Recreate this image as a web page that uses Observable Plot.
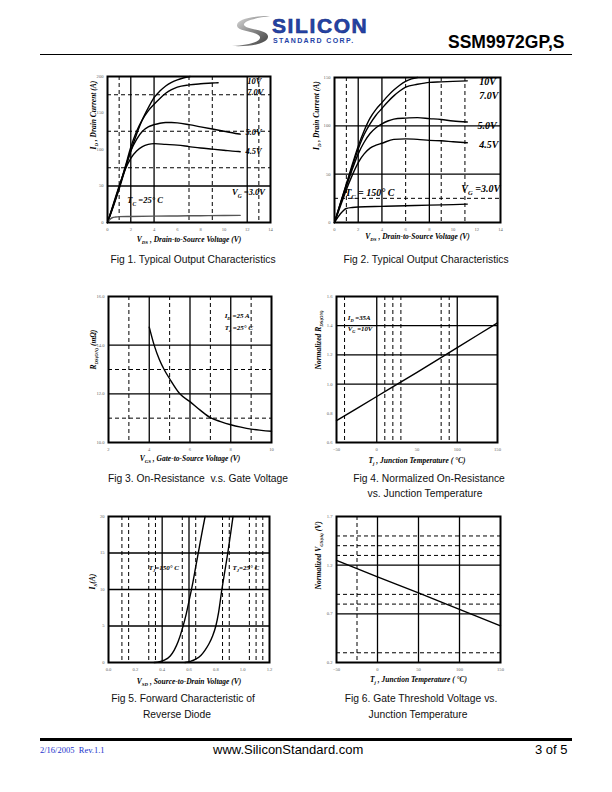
<!DOCTYPE html>
<html><head><meta charset="utf-8">
<script src="https://cdn.jsdelivr.net/npm/d3@7"></script>
<script src="https://cdn.jsdelivr.net/npm/@observablehq/plot@0.6"></script>
<style>
html,body{margin:0;padding:0;background:#fff;}
#page{position:relative;width:612px;height:792px;overflow:hidden;background:#fff;}
.abs{position:absolute;white-space:nowrap;}
.cap{position:absolute;font-family:"Liberation Sans",Arial,sans-serif;font-size:10.3px;color:#111;text-align:center;width:240px;line-height:12px;}
</style>
</head><body>
<div id="page">
  <svg class="abs" style="left:231px;top:15px" width="40" height="32" viewBox="0 0 40 32">
    <defs><linearGradient id="sg" x1="0" y1="0" x2="1" y2="1"><stop offset="0" stop-color="#e8e8e8"/><stop offset="0.5" stop-color="#8a8a8a"/><stop offset="1" stop-color="#3a3a3a"/></linearGradient></defs>
    <path d="M39,1 C22,1 5,4 6,11 C7,17 27,16 29,22 C30,27 17,30 1,31 C22,32 38,28 37,21 C36,14 15,15 13,10 C12,6 24,3 39,1Z" fill="url(#sg)"/>
  </svg>
  <div class="abs" style="left:272px;top:15px;line-height:21px;font-family:'Liberation Sans',Arial,sans-serif;font-weight:bold;font-size:21px;letter-spacing:1.6px;color:#2443a6;-webkit-text-stroke:0.6px #1a2f80;">SILICON</div>
  <div class="abs" style="left:273px;top:37px;line-height:7px;font-family:'Liberation Sans',Arial,sans-serif;font-weight:bold;font-size:7px;letter-spacing:1.4px;color:#2443a6;">STANDARD CORP.</div>
  <div class="abs" style="left:448px;top:32px;font-family:'Liberation Sans',Arial,sans-serif;font-weight:bold;font-size:17.5px;color:#000;">SSM9972GP,S</div>
  <div class="abs" style="left:40px;top:54px;width:532px;height:1px;background:#000;"></div>

  <div class="cap" style="left:73px;top:254px">Fig 1. Typical Output Characteristics</div>
  <div class="cap" style="left:306px;top:254px">Fig 2. Typical Output Characteristics</div>
  <div class="cap" style="left:78px;top:473px">Fig 3. On-Resistance&nbsp; v.s. Gate Voltage</div>
  <div class="cap" style="left:309px;top:473px">Fig 4. Normalized On-Resistance</div>
  <div class="cap" style="left:305px;top:488px">vs. Junction Temperature</div>
  <div class="cap" style="left:63px;top:693px">Fig 5. Forward Characteristic of</div>
  <div class="cap" style="left:57px;top:709px">Reverse Diode</div>
  <div class="cap" style="left:301px;top:693px">Fig 6. Gate Threshold Voltage vs.</div>
  <div class="cap" style="left:298px;top:709px">Junction Temperature</div>

  <div class="abs" style="left:40px;top:738px;width:532px;height:3px;background:#000;"></div>
  <div class="abs" style="left:40px;top:745px;font-family:'Liberation Serif',serif;font-size:8.5px;color:#2233cc;">2/16/2005&nbsp; Rev.1.1</div>
  <div class="abs" style="left:213px;top:742px;font-family:'Liberation Sans',Arial,sans-serif;font-size:13px;color:#000;">www.SiliconStandard.com</div>
  <div class="abs" style="left:535px;top:742px;font-family:'Liberation Sans',Arial,sans-serif;font-size:13px;color:#000;">3 of 5</div>
</div>
<script>
// ---------- Fig 1: Typical output characteristics, Tc = 25 C ----------
const fig1XTicks = [0,2,4,6,8,10,12,14];
const fig1YTicks = [0,50,100,150,200];
const fig1VSolid = [2,4,12];
const fig1VDashed = [1,7,9,13];
const fig1HSolid = [50];
const fig1HDashed = [75,125,175];
const fig1Vgs10 = [[0,0],[0.5,22],[1,46],[1.5,72],[2,98],[2.5,121],[3,141],[3.5,157],[4,171],[4.5,180],[5,187],[5.5,192],[6,195.5],[6.5,198],[7.1,200]];
const fig1Vgs7 = [[0,0],[0.5,23],[1,48],[1.5,75],[2,103],[2.5,125],[3,141],[3.5,153],[4,162],[4.5,170],[5,177],[5.5,182],[6,185.5],[7,188.5],[8,190],[9,191],[9.5,191.5]];
const fig1Vgs5 = [[0,0],[0.5,24],[1,48],[1.5,74],[2,98],[2.5,114],[3,125],[3.5,131],[4,134],[4.5,136],[5,137],[5.5,137],[6,136.5],[7,134],[8,131],[9,128],[10,125],[11,122],[11.4,121]];
const fig1Vgs45 = [[0,0],[0.5,25],[1,50],[1.5,72],[2,88],[2.5,98],[3,104],[3.5,107],[4,108],[5,107],[6,106],[7,104],[8,102],[9,100.5],[10,99],[11,97.5],[11.4,97]];
const fig1Vgs3 = [[0,0],[0.2,4],[0.4,6.5],[0.7,7.5],[1,8],[2,8.3],[4,8.7],[6,9],[8,9.3],[10,9.6],[11.4,9.8]];
const fig1LabelText = ["10V","7.0V","5.0V","4.5V","V~G~ =3.0V","T~C~ =25° C"];
const fig1LabelX = [12.0,12.0,11.85,11.85,10.7,1.7];
const fig1LabelY = [194,178,123,97,41,30];

// ---------- Fig 2: Typical output characteristics, Tc = 150 C ----------
const fig2XTicks = [0,2,4,6,8,10,12,14];
const fig2YTicks = [0,50,100,150];
const fig2VSolid = [2,4,8];
const fig2VDashed = [1,6,9,11];
const fig2HSolid = [50,100];
const fig2HDashed = [25];
const fig2Vgs10 = [[0,0],[0.5,20],[1,40],[1.5,60],[2,79],[2.5,95],[3,108],[3.5,117],[4,124],[4.5,131],[5,137],[5.5,142],[6,146],[6.5,148.5],[7,150]];
const fig2Vgs7 = [[0,0],[0.5,20],[1,39],[1.5,58],[2,76],[2.5,91],[3,102],[3.5,111],[4,118],[4.5,125],[5,131],[5.5,136],[6,140],[7,143],[8,145],[9,145.5],[10,146],[11.2,146.5]];
const fig2Vgs5 = [[0,0],[0.5,19],[1,37],[1.5,55],[2,71],[2.5,83],[3,92],[3.5,98],[4,102],[4.5,105],[5,107],[6,108],[7,108.5],[8,107.5],[9,106.5],[10,105],[11.2,104]];
const fig2Vgs45 = [[0,0],[0.5,17],[1,34],[1.5,49],[2,62],[2.5,71],[3,77],[3.5,80],[4,82],[5,86],[6,86.5],[7,86],[8,85],[9,84.5],[10,83.5],[11.2,82.5]];
const fig2Vgs3 = [[0,0],[0.5,9],[1,14.5],[1.5,15.5],[2,16],[4,16.7],[6,17.3],[8,18],[10,18.5],[11.2,19]];
const fig2LabelText = ["10V","7.0V","5.0V","4.5V","V~G~ =3.0V","T~C~ = 150° C"];
const fig2LabelX = [12.2,12.2,12.05,12.2,10.7,0.9];
const fig2LabelY = [146,131,100,80,35,31];

// ---------- Fig 3: On-resistance vs gate voltage ----------
const fig3XTicks = [2,4,6,8,10];
const fig3YTicks = [10,12,14,16];
const fig3VSolid = [4,6,8];
const fig3VDashed = [3,5,7,9];
const fig3HSolid = [12,14];
const fig3HDashed = [11,13];
const fig3Rds = [[4,14.74],[4.24,14],[4.5,13.4],[4.73,13],[5,12.62],[5.5,12],[6,11.68],[6.5,11.33],[7,11.02],[7.5,10.86],[8,10.73],[8.5,10.63],[9,10.55],[9.5,10.5],[10,10.46]];
const fig3LabelText = ["I~D~ =25 A","T~c~ =25° C"];
const fig3LabelX = [7.7,7.7];
const fig3LabelY = [15.22,14.73];

// ---------- Fig 4: Normalized RDS(on) vs junction temperature ----------
const fig4XTicks = [-50,0,50,100,150];
const fig4YTicks = [0.6,0.8,1.0,1.2,1.4,1.6];
const fig4VSolid = [0,100];
const fig4VDashed = [-40,10,20,30,80,90];
const fig4HSolid = [1.0,1.2,1.4];
const fig4HDashed = [];
const fig4Rds = [[-50,0.75],[0,0.915],[50,1.08],[100,1.25],[150,1.42]];
const fig4LabelText = ["I~D~ =35A","V~G~ =10V"];
const fig4LabelX = [-36,-36];
const fig4LabelY = [1.456,1.38];

// ---------- Fig 5: Forward characteristic of reverse diode ----------
const fig5XTicks = [0,0.2,0.4,0.6,0.8,1,1.2];
const fig5YTicks = [0,5,10,15,20];
const fig5VSolid = [0.4,0.6];
const fig5VDashed = [0.1,0.15,0.3,0.35,0.55,0.65,0.85,0.9,1.05,1.1,1.15];
const fig5HSolid = [5,10,15];
const fig5HDashed = [];
const fig5Tj150 = [[0.34,0],[0.38,0.1],[0.42,0.35],[0.46,0.9],[0.49,1.7],[0.52,2.9],[0.55,4.6],[0.58,6.7],[0.6,8.4],[0.625,10.6],[0.65,13.1],[0.675,15.6],[0.7,18.1],[0.72,20]];
const fig5Tj25 = [[0.57,0],[0.61,0.15],[0.65,0.45],[0.69,1.0],[0.72,1.7],[0.75,2.6],[0.775,3.6],[0.8,5.0],[0.82,6.8],[0.845,10],[0.867,12.5],[0.889,15],[0.909,17.5],[0.928,20]];
const fig5LabelText = ["T~J~=150° C","T~J~=25° C"];
const fig5LabelX = [0.3,0.924];
const fig5LabelY = [13,13];

// ---------- Fig 6: Gate threshold voltage vs junction temperature ----------
const fig6XTicks = [-50,0,50,100,150];
const fig6YTicks = [0.2,0.7,1.2,1.7];
const fig6VSolid = [0,50,100];
const fig6VDashed = [-25];
const fig6HSolid = [0.7,1.2];
const fig6HDashed = [0.3,0.8,0.9,1.3,1.4,1.5];
const fig6Vth = [[-50,1.25],[0,1.08],[50,0.915],[100,0.745],[150,0.577]];

const SERIF = "'Liberation Serif','Times New Roman',serif";
const page = document.getElementById("page");
const NS = "http://www.w3.org/2000/svg";

function applySubscripts(svg){
  svg.querySelectorAll("text").forEach(t => {
    const s = t.textContent;
    if (!s.includes("~")) return;
    const fs = parseFloat(getComputedStyle(t).fontSize) || 8;
    t.textContent = "";
    const parts = s.split("~");
    let shifted = false;
    parts.forEach((p, i) => {
      if (!p) return;
      const ts = document.createElementNS(NS, "tspan");
      ts.textContent = p;
      if (i % 2 === 1) {
        ts.setAttribute("font-size", (fs * 0.65).toFixed(2));
        ts.setAttribute("dy", (fs * 0.3).toFixed(2));
        shifted = true;
      } else if (shifted) {
        ts.setAttribute("dy", (-fs * 0.3).toFixed(2));
        shifted = false;
      }
      t.appendChild(ts);
    });
  });
}

function makeChart(c){
  const ml = 30, mt = 8, mr = 8, mb = 30;
  const [fl, ft, fw, fh] = c.frame;
  const rows = [];
  c.series.forEach((s, k) => s.pts.forEach(([x, y]) => rows.push({x, y, k, stroke: s.stroke || "#000"})));
  const labels = (c.labelText || []).map((t, i) => ({t, x: c.labelX[i], y: c.labelY[i]}));
  const titleFont = {fontFamily: SERIF, fontWeight: "bold", fontStyle: "italic", fontSize: c.titleSize || 7.5, fill: "#000"};
  const svg = Plot.plot({
    width: ml + fw + mr, height: mt + fh + mb,
    marginLeft: ml, marginTop: mt, marginRight: mr, marginBottom: mb,
    style: {fontFamily: SERIF, fontSize: "4.6px", color: "#666", background: "transparent", overflow: "visible"},
    x: {domain: c.xDomain, ticks: c.xTicks, tickSize: 0, tickPadding: 5, label: null, tickFormat: c.xFmt},
    y: {domain: c.yDomain, ticks: c.yTicks, tickSize: 0, tickPadding: 4, label: null, tickFormat: c.yFmt},
    marks: [
      Plot.ruleX(c.vDashed, {stroke: "#000", strokeWidth: 1, strokeDasharray: "4,3"}),
      Plot.ruleY(c.hDashed, {stroke: "#000", strokeWidth: 1, strokeDasharray: "4,3"}),
      Plot.ruleX(c.vSolid, {stroke: "#000", strokeWidth: 1.3}),
      Plot.ruleY(c.hSolid, {stroke: "#000", strokeWidth: 1.3}),
      Plot.line(rows, {x: "x", y: "y", z: "k", stroke: "stroke", strokeWidth: 1.4, curve: "monotone-x"}),
      Plot.text(labels, {x: "x", y: "y", text: "t", textAnchor: "start", fontFamily: SERIF, fontWeight: "bold", fontStyle: "italic", fontSize: c.labelSize || 7, fill: "#000"}),
      Plot.text([c.xTitle], {text: d => d, frameAnchor: "bottom", dy: c.xTitleDy, ...titleFont}),
      Plot.text([c.yTitle], {text: d => d, frameAnchor: "left", dx: c.yTitleDx, rotate: -90, ...titleFont}),
      Plot.frame({stroke: "#000", strokeWidth: 2})
    ]
  });
  svg.style.position = "absolute";
  svg.style.left = (fl - ml) + "px";
  svg.style.top = (ft - mt) + "px";
  page.appendChild(svg);
  applySubscripts(svg);
}

const f1 = d3.format(".1f");

makeChart({frame: [107, 76, 163, 146], xDomain: [0, 14], yDomain: [0, 200], xTicks: fig1XTicks, yTicks: fig1YTicks,
  vSolid: fig1VSolid, vDashed: fig1VDashed, hSolid: fig1HSolid, hDashed: fig1HDashed,
  series: [{pts: fig1Vgs10}, {pts: fig1Vgs7}, {pts: fig1Vgs5}, {pts: fig1Vgs45}, {pts: fig1Vgs3, stroke: "#555"}],
  labelText: fig1LabelText, labelX: fig1LabelX, labelY: fig1LabelY, labelSize: 8.5,
  xTitle: "V~DS~ , Drain-to-Source Voltage (V)", yTitle: "I~D~ , Drain Current (A)", xTitleDy: 19, yTitleDx: -14});

makeChart({frame: [334, 77, 166, 145], xDomain: [0, 14], yDomain: [0, 150], xTicks: fig2XTicks, yTicks: fig2YTicks,
  vSolid: fig2VSolid, vDashed: fig2VDashed, hSolid: fig2HSolid, hDashed: fig2HDashed,
  series: [{pts: fig2Vgs10}, {pts: fig2Vgs7}, {pts: fig2Vgs5}, {pts: fig2Vgs45}, {pts: fig2Vgs3}],
  labelText: fig2LabelText, labelX: fig2LabelX, labelY: fig2LabelY, labelSize: 10,
  xTitle: "V~DS~ , Drain-to-Source Voltage (V)", yTitle: "I~D~ , Drain Current (A)", xTitleDy: 16, yTitleDx: -18});

makeChart({frame: [108, 296, 163, 146], xDomain: [2, 10], yDomain: [10, 16], xTicks: fig3XTicks, yTicks: fig3YTicks,
  vSolid: fig3VSolid, vDashed: fig3VDashed, hSolid: fig3HSolid, hDashed: fig3HDashed,
  series: [{pts: fig3Rds}],
  labelText: fig3LabelText, labelX: fig3LabelX, labelY: fig3LabelY, labelSize: 7,
  xTitle: "V~GS~ , Gate-to-Source Voltage (V)", yTitle: "R~DS(ON)~ (mΩ)", xTitleDy: 18, yTitleDx: -15});

makeChart({frame: [336, 296, 161, 146], xDomain: [-50, 150], yDomain: [0.6, 1.6], xTicks: fig4XTicks, yTicks: fig4YTicks, yFmt: f1,
  vSolid: fig4VSolid, vDashed: fig4VDashed, hSolid: fig4HSolid, hDashed: fig4HDashed,
  series: [{pts: fig4Rds}],
  labelText: fig4LabelText, labelX: fig4LabelX, labelY: fig4LabelY, labelSize: 6.8,
  xTitle: "T~j~ , Junction Temperature ( °C)", yTitle: "Normalized R~DS(ON)~", xTitleDy: 20, yTitleDx: -18});

makeChart({frame: [108, 516, 161, 146], xDomain: [0, 1.2], yDomain: [0, 20], xTicks: fig5XTicks, yTicks: fig5YTicks,
  vSolid: fig5VSolid, vDashed: fig5VDashed, hSolid: fig5HSolid, hDashed: fig5HDashed,
  series: [{pts: fig5Tj150}, {pts: fig5Tj25}],
  labelText: fig5LabelText, labelX: fig5LabelX, labelY: fig5LabelY, labelSize: 7,
  xTitle: "V~SD~ , Source-to-Drain Voltage (V)", yTitle: "I~S~(A)", xTitleDy: 21, yTitleDx: -16});

makeChart({frame: [336, 516, 164, 146], xDomain: [-50, 150], yDomain: [0.2, 1.7], xTicks: fig6XTicks, yTicks: fig6YTicks, yFmt: f1,
  vSolid: fig6VSolid, vDashed: fig6VDashed, hSolid: fig6HSolid, hDashed: fig6HDashed,
  series: [{pts: fig6Vth}],
  labelText: [], labelX: [], labelY: [],
  xTitle: "T~j~ , Junction Temperature ( °C)", yTitle: "Normalized V~GS(th)~ (V)", xTitleDy: 19, yTitleDx: -18});
</script>
</body></html>
